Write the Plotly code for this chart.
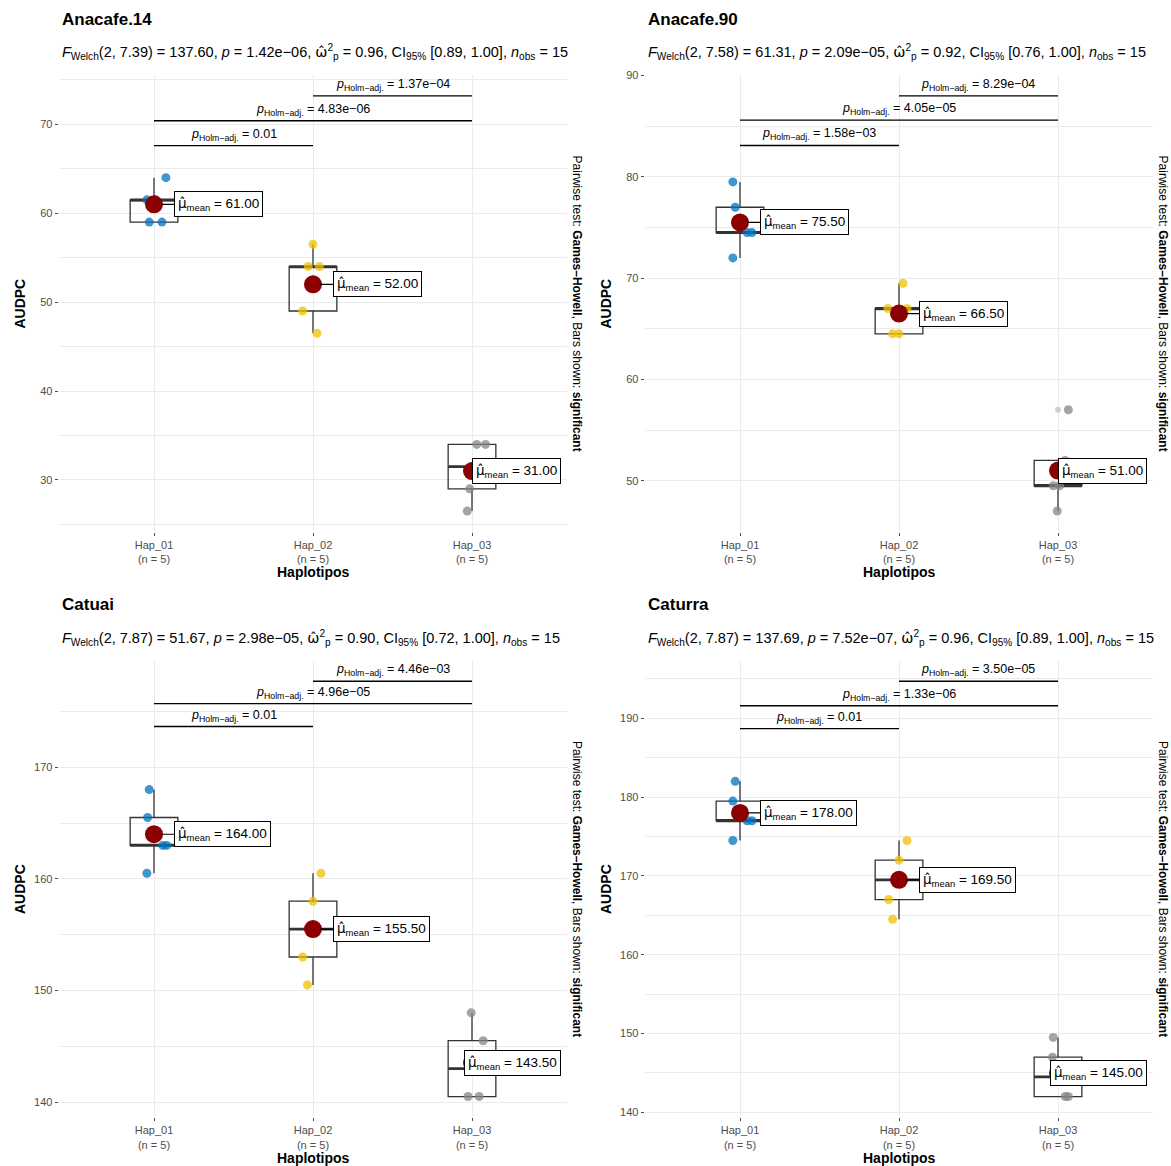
import numpy as np
import plotly.graph_objects as go

# ---------------- data ----------------
cultivars = ["Anacafe.14", "Anacafe.90", "Catuai", "Caturra"]
haplotypes = ["Hap_01", "Hap_02", "Hap_03"]
n_per_group = [5, 5, 5]

anacafe14_audpc = [[59, 59, 61.5, 61.5, 64],
                   [46.5, 49, 54, 54, 56.5],
                   [26.5, 29, 31.5, 34, 34]]
anacafe90_audpc = [[72, 74.5, 74.5, 77, 79.5],
                   [64.5, 64.5, 67, 67, 69.5],
                   [47, 49.5, 49.5, 52, 57]]
catuai_audpc = [[160.5, 163, 163, 165.5, 168],
                [150.5, 153, 155.5, 158, 160.5],
                [140.5, 140.5, 143, 145.5, 148]]
caturra_audpc = [[174.5, 177, 177, 179.5, 182],
                 [164.5, 167, 169.5, 172, 174.5],
                 [142, 142, 144.5, 147, 149.5]]

# Welch ANOVA results
welch_df2 = ["7.39", "7.58", "7.87", "7.87"]
welch_F = ["137.60", "61.31", "51.67", "137.69"]
welch_p = ["1.42e−06", "2.09e−05", "2.98e−05", "7.52e−07"]
omega2 = ["0.96", "0.92", "0.90", "0.96"]
ci_low = ["0.89", "0.76", "0.72", "0.89"]
ci_high = ["1.00", "1.00", "1.00", "1.00"]
n_obs = [15, 15, 15, 15]

# pairwise Games-Howell (Holm adj.) p values: pairs (1-2), (1-3), (2-3)
pairs = [(1, 2), (1, 3), (2, 3)]
pairwise_p_anacafe14 = ["0.01", "4.83e−06", "1.37e−04"]
pairwise_p_anacafe90 = ["1.58e−03", "4.05e−05", "8.29e−04"]
pairwise_p_catuai = ["0.01", "4.96e−05", "4.46e−03"]
pairwise_p_caturra = ["0.01", "1.33e−06", "3.50e−05"]
# heights of significance bars (AUDPC units)
bar_y_anacafe14 = [67.6, 70.4, 73.2]
bar_y_anacafe90 = [83.1, 85.6, 88.0]
bar_y_catuai = [173.65, 175.7, 177.7]
bar_y_caturra = [188.7, 191.6, 194.7]

# horizontal jitter of the points (category units)
jitter_anacafe14 = [[-0.03, 0.05, -0.045, 0.01, 0.075],
                    [0.025, -0.065, -0.03, 0.04, 0.0],
                    [-0.03, -0.015, 0.0, 0.03, 0.085]]
jitter_anacafe90 = [[-0.045, 0.045, 0.075, -0.03, -0.045],
                    [-0.04, 0.0, -0.07, 0.05, 0.025],
                    [-0.005, -0.03, 0.01, 0.045, 0.065]]
jitter_catuai = [[-0.045, 0.055, 0.08, -0.04, -0.03],
                 [-0.035, -0.065, 0.0, 0.0, 0.05],
                 [-0.025, 0.045, 0.03, 0.07, -0.005]]
jitter_caturra = [[-0.045, 0.045, 0.075, -0.045, -0.03],
                  [-0.04, -0.065, 0.0, 0.0, 0.05],
                  [0.045, 0.065, 0.0, -0.035, -0.03]]

all_data = [anacafe14_audpc, anacafe90_audpc, catuai_audpc, caturra_audpc]
all_pw = [pairwise_p_anacafe14, pairwise_p_anacafe90, pairwise_p_catuai, pairwise_p_caturra]
all_bar_y = [bar_y_anacafe14, bar_y_anacafe90, bar_y_catuai, bar_y_caturra]
all_jit = [jitter_anacafe14, jitter_anacafe90, jitter_catuai, jitter_caturra]

# ---------------- styling ----------------
W, H = 1171, 1166
FONT = "Liberation Sans, Arial, Helvetica, sans-serif"
HATFONT = "DejaVu Sans"
point_colors = ["rgba(0,115,194,0.75)", "rgba(239,192,0,0.75)", "rgba(134,134,134,0.75)"]
MEAN_COLOR = "#8B0000"
GRID = "#EBEBEB"

col_px = [(58.6, 567.4), (644.6, 1153.4)]
row_px = [(69.5, 529.0), (658.5, 1118.0)]


def px2x(px):
    return px / W


def px2y(py):
    return 1 - py / H


MU_HAT = f"<span style=\"font-family:{HATFONT}\">\u03bc\u0302</span>"
OMEGA_HAT = f"<span style=\"font-family:{HATFONT}\">\u03c9\u0302</span>"

fig = go.Figure()
annotations = []
shapes = []

for k in range(4):
    r, c = divmod(k, 2)
    x0, x1 = col_px[c]
    y0, y1 = row_px[r]
    xa = "x" if k == 0 else f"x{k+1}"
    ya = "y" if k == 0 else f"y{k+1}"
    xkey = "xaxis" if k == 0 else f"xaxis{k+1}"
    ykey = "yaxis" if k == 0 else f"yaxis{k+1}"

    data = all_data[k]
    flat = np.concatenate([np.array(d, float) for d in data])
    lo = flat.min()
    hi = max(all_bar_y[k])
    span = hi - lo
    yr = [lo - 0.05 * span, hi + 0.05 * span]

    ticktext = [f"{h}<br>(n = {n})" for h, n in zip(haplotypes, n_per_group)]
    fig.update_layout({
        xkey: dict(domain=[px2x(x0), px2x(x1)], anchor=ya, range=[0.4, 3.6],
                   tickvals=[1, 2, 3], ticktext=ticktext, showgrid=True,
                   gridcolor=GRID, gridwidth=1, zeroline=False, showline=False,
                   ticks="outside", ticklen=3, tickcolor="#4D4D4D", tickwidth=1,
                   tickfont=dict(family=FONT, size=11, color="#4D4D4D"), fixedrange=True),
        ykey: dict(domain=[px2y(y1), px2y(y0)], anchor=xa, range=yr,
                   dtick=10, tick0=0, showgrid=True, gridcolor=GRID, gridwidth=1,
                   minor=dict(dtick=5, tick0=0, showgrid=True, gridcolor=GRID, gridwidth=0.6),
                   zeroline=False, showline=False, ticks="outside", ticklen=3,
                   tickcolor="#4D4D4D", tickwidth=1,
                   tickfont=dict(family=FONT, size=11, color="#4D4D4D"), fixedrange=True),
    })

    for g in range(3):
        vals = np.array(data[g], float)
        q1, med, q3 = np.percentile(vals, [25, 50, 75])
        iqr = q3 - q1
        inside = vals[(vals >= q1 - 1.5 * iqr) & (vals <= q3 + 1.5 * iqr)]
        lf, uf = inside.min(), inside.max()
        outl = vals[(vals < q1 - 1.5 * iqr) | (vals > q3 + 1.5 * iqr)]
        xc = g + 1
        fig.add_trace(go.Box(x=[xc], q1=[q1], median=[med], q3=[q3],
                             lowerfence=[lf], upperfence=[uf], width=0.3,
                             fillcolor="rgba(255,255,255,0)",
                             line=dict(color="#333333", width=1.3), whiskerwidth=0,
                             boxpoints=False, hoverinfo="skip", showlegend=False,
                             xaxis=xa, yaxis=ya))
        fig.add_trace(go.Scatter(x=[xc - 0.15, xc + 0.15], y=[med, med], mode="lines",
                                 line=dict(color="#333333", width=2.8), hoverinfo="skip",
                                 showlegend=False, xaxis=xa, yaxis=ya))
        if len(outl):
            fig.add_trace(go.Scatter(x=[xc] * len(outl), y=outl, mode="markers",
                                     marker=dict(size=6, color="rgba(150,150,150,0.45)"),
                                     hoverinfo="skip", showlegend=False, xaxis=xa, yaxis=ya))
        fig.add_trace(go.Scatter(x=xc + np.array(all_jit[k][g]), y=vals, mode="markers",
                                 marker=dict(size=9, color=point_colors[g], line=dict(width=0)),
                                 hoverinfo="skip", showlegend=False, xaxis=xa, yaxis=ya))
        mean = vals.mean()
        fig.add_trace(go.Scatter(x=[xc], y=[mean], mode="markers",
                                 marker=dict(size=18, color=MEAN_COLOR, line=dict(width=0)),
                                 hoverinfo="skip", showlegend=False, xaxis=xa, yaxis=ya))
        label = f"{MU_HAT}<sub>mean</sub> = {mean:.2f}"
        common = dict(xref=xa, yref=ya, text=label, bgcolor="white", bordercolor="black",
                      borderwidth=1, borderpad=3, font=dict(family=FONT, size=13.5, color="black"))
        if g < 2:
            annotations.append(dict(x=xc, y=mean, showarrow=True, arrowhead=0, arrowwidth=1.2,
                                    arrowcolor="black", ax=20, ay=0, standoff=7,
                                    xanchor="left", **common))
        else:
            annotations.append(dict(x=3.6, y=mean, showarrow=False, xanchor="right",
                                    xshift=-6, yanchor="middle", **common))

    # significance bars
    for (i, j), py, lab in zip(pairs, all_bar_y[k], all_pw[k]):
        shapes.append(dict(type="line", xref=xa, yref=ya, x0=i, x1=j, y0=py, y1=py,
                           line=dict(color="black", width=1.4)))
        annotations.append(dict(x=(i + j) / 2, y=py, xref=xa, yref=ya, showarrow=False,
                                yanchor="bottom", yshift=1,
                                text=f"<i>p</i><sub>Holm\u2212adj.</sub> = {lab}",
                                font=dict(family=FONT, size=12.5, color="black")))

    # titles
    annotations.append(dict(x=px2x(x0 + 1.5), y=px2y(y0 - 56), xref="paper", yref="paper",
                            xanchor="left", yanchor="middle", showarrow=False,
                            text=f"<b>{cultivars[k]}</b>",
                            font=dict(family=FONT, size=17, color="black")))
    sub = (f"<i>F</i><sub>Welch</sub>(2, {welch_df2[k]}) = {welch_F[k]}, "
           f"<i>p</i> = {welch_p[k]}, {OMEGA_HAT}<sup>2</sup><sub>p</sub> = {omega2[k]}, "
           f"CI<sub>95%</sub> [{ci_low[k]}, {ci_high[k]}], <i>n</i><sub>obs</sub> = {n_obs[k]}")
    annotations.append(dict(x=px2x(x0 + 1.5), y=px2y(y0 - 23), xref="paper", yref="paper",
                            xanchor="left", yanchor="middle", showarrow=False, text=sub,
                            font=dict(family=FONT, size=14.5, color="black")))
    # axis titles
    annotations.append(dict(x=px2x(x0 - 38.5), y=px2y((y0 + y1) / 2), xref="paper", yref="paper",
                            xanchor="center", yanchor="middle", showarrow=False, textangle=-90,
                            text="<b>AUDPC</b>", font=dict(family=FONT, size=14, color="black")))
    annotations.append(dict(x=px2x((x0 + x1) / 2), y=px2y(y1 + 40.5), xref="paper", yref="paper",
                            xanchor="center", yanchor="middle", showarrow=False,
                            text="<b>Haplotipos</b>", font=dict(family=FONT, size=14, color="black")))
    annotations.append(dict(x=px2x(x1 + 9.5), y=px2y((y0 + y1) / 2), xref="paper", yref="paper",
                            xanchor="center", yanchor="middle", showarrow=False, textangle=90,
                            text="Pairwise test: <b>Games\u2013Howell</b>, Bars shown: <b>significant</b>",
                            font=dict(family=FONT, size=12, color="black")))

fig.update_layout(width=W, height=H, margin=dict(l=0, r=0, t=0, b=0),
                  paper_bgcolor="white", plot_bgcolor="white",
                  annotations=annotations, shapes=shapes, showlegend=False,
                  font=dict(family=FONT))

fig.write_html("out.html", config={"displayModeBar": False},
               post_script="document.body.style.margin='0';document.body.style.padding='0';")
